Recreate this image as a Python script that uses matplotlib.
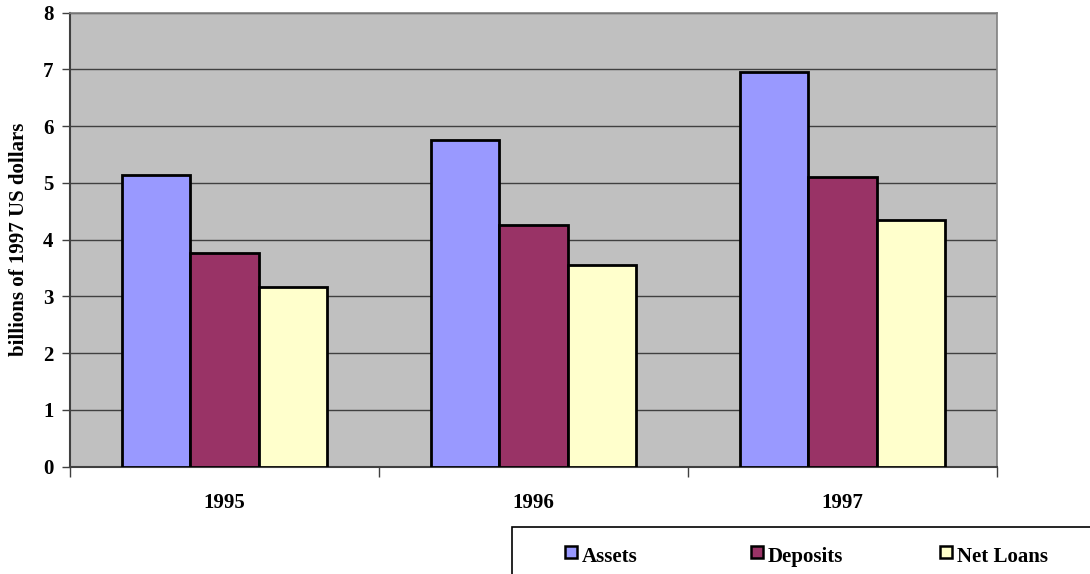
import matplotlib
matplotlib.use("Agg")
import matplotlib.pyplot as plt
from matplotlib.patches import Rectangle
import numpy as np

years = ["1995", "1996", "1997"]
series_names = ["Assets", "Deposits", "Net Loans"]
assets = [5.13, 5.76, 6.96]
deposits = [3.77, 4.26, 5.10]
net_loans = [3.16, 3.55, 4.34]
colors = ["#9999FF", "#993366", "#FFFFCC"]
y_ticks = [0, 1, 2, 3, 4, 5, 6, 7, 8]

plt.rcParams['font.family'] = ['Liberation Serif', 'DejaVu Serif']
plt.rcParams['font.weight'] = 'bold'

fig = plt.figure(figsize=(10.9, 5.74), dpi=100)
ax = fig.add_axes([70/1090, 1 - 466.7/574, 927/1090, (466.7 - 12.5)/574])
ax.set_facecolor("#C0C0C0")

x = np.arange(len(years))
bw = 0.2222
for i, vals in enumerate([assets, deposits, net_loans]):
    ax.bar(x + (i - 1) * bw, vals, width=bw, color=colors[i], edgecolor="black",
           linewidth=2, zorder=3)

ax.set_xlim(-0.5, 2.5)
ax.set_ylim(0, 8)
ax.set_yticks(y_ticks)
ax.set_yticklabels([str(t) for t in y_ticks], fontsize=15, fontweight='bold')
ax.yaxis.grid(True, color="#404040", linewidth=1.0, zorder=1)
ax.set_axisbelow(True)

ax.set_xticks([-0.5, 0.5, 1.5, 2.5])
ax.set_xticklabels([])
ax.set_xticks(x, minor=True)
ax.set_xticklabels(years, minor=True, fontsize=15, fontweight='bold')
ax.tick_params(axis='x', which='minor', length=0, pad=19)
ax.tick_params(axis='x', which='major', length=7, width=1, color="#404040", direction='out')
ax.tick_params(axis='y', length=6, width=1, color="#404040", direction='out', pad=6)

for s in ["left", "bottom"]:
    ax.spines[s].set_color("#404040")
    ax.spines[s].set_linewidth(1.5)
for s in ["top", "right"]:
    ax.spines[s].set_color("#808080")
    ax.spines[s].set_linewidth(1.2)

ax.set_ylabel("billions of 1997 US dollars", fontsize=15, fontweight='bold', labelpad=10)

# Legend box (extends past the figure edges, as in the reference)
W, H = 1090, 574
fig.patches.append(Rectangle((512/W, -0.05), (W - 512)/W + 0.05, (H - 527)/H + 0.05,
                             transform=fig.transFigure, facecolor="white",
                             edgecolor="black", linewidth=1.2, clip_on=False))
leg_x = [565, 751, 940]
for i, name in enumerate(series_names):
    fig.patches.append(Rectangle((leg_x[i]/W, 1 - 558/H), 12/W, 12/H,
                                 transform=fig.transFigure, facecolor=colors[i],
                                 edgecolor="black", linewidth=1.8))
    fig.text((leg_x[i] + 17)/W, 1 - 562/H, name, fontsize=15, fontweight='bold',
             va='baseline', ha='left')

fig.savefig("out.png", dpi=100)
